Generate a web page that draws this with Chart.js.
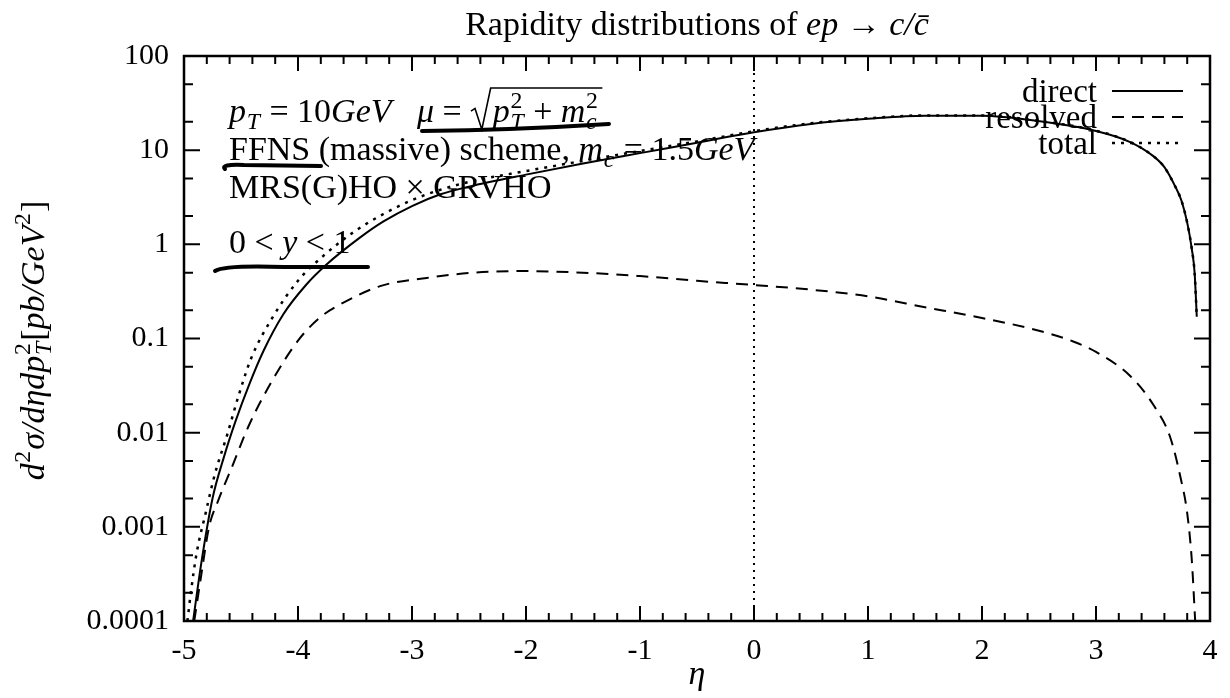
<!DOCTYPE html>
<html>
<head>
<meta charset="utf-8">
<script src="https://cdn.jsdelivr.net/npm/chart.js@4.4.1/dist/chart.umd.min.js"></script>
<style>
  body { margin: 0; background: #fff; }
  #wrap { width: 1230px; height: 698px; }
</style>
</head>
<body>
<div id="wrap"><canvas id="grafica"></canvas></div>
<script>
// values (eta, d2sigma in pb/GeV^2)
const directEta = [-4.92, -4.85, -4.75, -4.65, -4.55, -4.43, -4.3, -4.13, -3.93, -3.75, -3.46, -3.25, -3.0, -2.75, -2.5, -2.0, -1.5, -1.0, -0.5, 0, 0.5, 1.0, 1.5, 2.0, 2.5, 3.0, 3.3, 3.5, 3.6, 3.7, 3.75, 3.8, 3.84, 3.865, 3.884];
const directVal = [0.0001, 0.0004, 0.002, 0.0055, 0.013, 0.032, 0.075, 0.18, 0.37, 0.61, 1.17, 1.75, 2.55, 3.4, 4.1, 5.5, 7.2, 9.3, 12, 15.5, 19, 21.5, 23.2, 23.2, 20.3, 16, 12.2, 8.7, 6.6, 4.0, 2.9, 1.7, 0.9, 0.5, 0.17];

const resolvedEta = [-4.91, -4.85, -4.78, -4.7, -4.58, -4.43, -4.23, -4.0, -3.8, -3.63, -3.28, -2.87, -2.46, -2.0, -1.5, -1.0, -0.5, 0, 0.5, 1.0, 1.5, 2.0, 2.5, 2.8, 3.0, 3.3, 3.5, 3.65, 3.74, 3.8, 3.84, 3.87];
const resolvedVal = [0.0001, 0.0003, 0.001, 0.0019, 0.0043, 0.012, 0.035, 0.095, 0.17, 0.23, 0.36, 0.44, 0.5, 0.52, 0.5, 0.46, 0.41, 0.37, 0.33, 0.28, 0.215, 0.165, 0.121, 0.093, 0.072, 0.04, 0.02, 0.009, 0.0034, 0.0014, 0.00045, 0.0001];

const totalEta = [-4.97, -4.94, -4.89, -4.81, -4.73, -4.62, -4.52, -4.41, -4.22, -4.0, -3.78, -3.5, -3.25, -3.0, -2.75, -2.5, -2.0, -1.5, -1.0, -0.5, 0, 0.5, 1.0, 1.5, 2.0, 2.5, 3.0, 3.3, 3.5, 3.6, 3.7, 3.75, 3.8, 3.84, 3.865, 3.884];
const totalVal = [0.0001, 0.0002, 0.00052, 0.0014, 0.0036, 0.0096, 0.025, 0.062, 0.17, 0.41, 0.75, 1.38, 2.1, 2.95, 3.8, 4.6, 6.0, 7.7, 9.8, 12.4, 15.9, 19.3, 21.8, 23.4, 23.4, 20.4, 16.1, 12.2, 8.7, 6.6, 4.0, 2.9, 1.7, 0.9, 0.5, 0.17];

const xTicks = [-5, -4, -3, -2, -1, 0, 1, 2, 3, 4];
const yTicks = [0.0001, 0.001, 0.01, 0.1, 1, 10, 100];
const yTickLabels = ["0.0001", "0.001", "0.01", "0.1", "1", "10", "100"];
const yMinorSteps = [2, 5];
const xMinorPerMajor = 5;
const legendNames = ["direct", "resolved", "total"];
const zeroLineEta = 0;

const serif = "'Liberation Serif', 'DejaVu Serif', serif";

function pts(xs, ys) {
    return xs.map((x, i) => ({ x: x, y: ys[i] }));
}

function fnt(size, it) {
    return (it ? "italic " : "") + size + "px " + serif;
}

// rich text: segments {t, i, sup, sub, subI, root}
function segWidth(ctx, s, size) {
    if (s.root) {
        let w = size * 0.66;
        s.root.forEach(r => { w += segWidth(ctx, r, size); });
        return w + size * 0.1;
    }
    ctx.font = fnt(size, s.i);
    let w = ctx.measureText(s.t || "").width;
    let ws = 0;
    if (s.sup) { ctx.font = fnt(size * 0.7, false); ws = Math.max(ws, ctx.measureText(s.sup).width); }
    if (s.sub) { ctx.font = fnt(size * 0.7, s.subI); ws = Math.max(ws, ctx.measureText(s.sub).width); }
    return w + ws + (ws ? size * 0.05 : 0);
}

function drawSegs(ctx, segs, x, y, size) {
    segs.forEach(s => {
        if (s.root) {
            let inner = 0;
            s.root.forEach(r => { inner += segWidth(ctx, r, size); });
            ctx.save();
            ctx.lineWidth = 1.6;
            ctx.beginPath();
            ctx.moveTo(x + size * 0.02, y - size * 0.32);
            ctx.lineTo(x + size * 0.14, y - size * 0.4);
            ctx.lineTo(x + size * 0.34, y + size * 0.22);
            ctx.lineTo(x + size * 0.6, y - size * 1.0);
            ctx.lineTo(x + size * 0.66 + inner + size * 0.1, y - size * 1.0);
            ctx.stroke();
            ctx.restore();
            drawSegs(ctx, s.root, x + size * 0.66, y, size);
            x += segWidth(ctx, s, size);
            return;
        }
        ctx.font = fnt(size, s.i);
        ctx.fillText(s.t || "", x, y);
        let w = ctx.measureText(s.t || "").width;
        let ws = 0;
        let sx = x + w + (s.i ? size * 0.02 : 0);
        if (s.sup) {
            ctx.font = fnt(size * 0.7, false);
            ctx.fillText(s.sup, sx, y - size * 0.42);
            ws = Math.max(ws, ctx.measureText(s.sup).width);
        }
        if (s.sub) {
            ctx.font = fnt(size * 0.7, s.subI);
            ctx.fillText(s.sub, sx, y + size * 0.2);
            ws = Math.max(ws, ctx.measureText(s.sub).width);
        }
        x += w + ws + (ws ? size * 0.05 : 0);
    });
}

function drawRich(ctx, segs, x, y, size, align) {
    let w = 0;
    segs.forEach(s => { w += segWidth(ctx, s, size); });
    if (align === "center") x -= w / 2;
    if (align === "right") x -= w;
    ctx.textAlign = "left";
    ctx.textBaseline = "alphabetic";
    drawSegs(ctx, segs, x, y, size);
}

const titleSegs = [{ t: "Rapidity distributions of " }, { t: "ep", i: true }, { t: " \u2192 " }, { t: "c/c\u0304", i: true }];
const yTitleSegs = [{ t: "d", i: true, sup: "2" }, { t: "\u03c3/d\u03b7dp", i: true, sup: "2", sub: "T", subI: true }, { t: "[" }, { t: "pb/GeV", i: true, sup: "2" }, { t: "]" }];
const noteLines = [
    [{ t: "p", i: true, sub: "T", subI: true }, { t: " = 10" }, { t: "GeV", i: true }, { t: "   " }, { t: "\u03bc", i: true }, { t: " = " },
     { root: [{ t: "p", i: true, sup: "2", sub: "T", subI: true }, { t: " + " }, { t: "m", i: true, sup: "2", sub: "c", subI: true }] }],
    [{ t: "FFNS (massive) scheme, " }, { t: "m", i: true, sub: "c", subI: true }, { t: " = 1.5" }, { t: "GeV", i: true }],
    [{ t: "MRS(G)HO \u00d7 GRVHO" }],
    [{ t: "0 < " }, { t: "y", i: true }, { t: " < 1" }]
];

const decor = {
    id: "decor",
    beforeDatasetsDraw(chart) {
        const ctx = chart.ctx;
        const a = chart.chartArea;
        ctx.save();
        ctx.fillStyle = "#000";
        const base = [a.top + 66, a.top + 104, a.top + 142, a.top + 197];
        noteLines.forEach((ln, i) => drawRich(ctx, ln, a.left + 45, base[i], 34));

        // hand drawn pen strokes under parts of the notes
        ctx.strokeStyle = "#000";
        ctx.lineCap = "round";
        ctx.lineWidth = 4;
        ctx.beginPath();
        ctx.moveTo(a.left + 238, a.top + 75);
        ctx.quadraticCurveTo(a.left + 330, a.top + 74, a.left + 425, a.top + 68);
        ctx.moveTo(a.left + 41, a.top + 113);
        ctx.quadraticCurveTo(a.left + 36, a.top + 108, a.left + 60, a.top + 109);
        ctx.lineTo(a.left + 137, a.top + 110);
        ctx.moveTo(a.left + 31, a.top + 215);
        ctx.quadraticCurveTo(a.left + 40, a.top + 209, a.left + 100, a.top + 211);
        ctx.lineTo(a.left + 184, a.top + 211);
        ctx.stroke();
        ctx.restore();
    },
    afterDraw(chart) {
        const ctx = chart.ctx;
        const a = chart.chartArea;
        const xs = chart.scales.x;
        const ys = chart.scales.y;
        ctx.save();
        ctx.strokeStyle = "#000";
        ctx.fillStyle = "#000";

        // ticks, inward on all four sides
        ctx.lineWidth = 2;
        ctx.beginPath();
        xTicks.forEach((v, i) => {
            const px = xs.getPixelForValue(v);
            ctx.moveTo(px, a.bottom); ctx.lineTo(px, a.bottom - 15);
            ctx.moveTo(px, a.top); ctx.lineTo(px, a.top + 15);
            if (i < xTicks.length - 1) {
                const step = (xTicks[i + 1] - v) / xMinorPerMajor;
                for (let k = 1; k < xMinorPerMajor; k++) {
                    const mx = xs.getPixelForValue(v + k * step);
                    ctx.moveTo(mx, a.bottom); ctx.lineTo(mx, a.bottom - 8);
                    ctx.moveTo(mx, a.top); ctx.lineTo(mx, a.top + 8);
                }
            }
        });
        yTicks.forEach((v, i) => {
            const py = ys.getPixelForValue(v);
            ctx.moveTo(a.left, py); ctx.lineTo(a.left + 16, py);
            ctx.moveTo(a.right, py); ctx.lineTo(a.right - 16, py);
            if (i < yTicks.length - 1) {
                yMinorSteps.forEach(m => {
                    const my = ys.getPixelForValue(v * m);
                    ctx.moveTo(a.left, my); ctx.lineTo(a.left + 9, my);
                    ctx.moveTo(a.right, my); ctx.lineTo(a.right - 9, my);
                });
            }
        });
        ctx.stroke();

        // frame
        ctx.lineWidth = 2.5;
        ctx.strokeRect(a.left, a.top, a.right - a.left, a.bottom - a.top);

        // legend: text right aligned, sample to the right
        ctx.font = fnt(33, false);
        ctx.textAlign = "right";
        ctx.textBaseline = "alphabetic";
        legendNames.forEach((name, i) => {
            const ds = chart.data.datasets[i];
            const by = a.top + 46 + i * 26;
            ctx.fillText(name, a.right - 113, by);
            ctx.save();
            ctx.lineWidth = ds.borderWidth;
            ctx.setLineDash(ds.borderDash || []);
            ctx.beginPath();
            ctx.moveTo(a.right - 98, by - 11);
            ctx.lineTo(a.right - 27, by - 11);
            ctx.stroke();
            ctx.restore();
        });

        // title, centred over the plot
        drawRich(ctx, titleSegs, (a.left + a.right) / 2, 35, 34, "center");

        // eta axis title
        ctx.font = fnt(34, true);
        ctx.textAlign = "center";
        ctx.textBaseline = "alphabetic";
        ctx.fillText("\u03b7", (a.left + a.right) / 2, 684);

        // y axis title, rotated
        ctx.save();
        ctx.translate(44, (a.top + a.bottom) / 2 + 2);
        ctx.rotate(-Math.PI / 2);
        drawRich(ctx, yTitleSegs, 0, 0, 34, "center");
        ctx.restore();

        ctx.restore();
    }
};

const canva = document.getElementById("grafica").getContext("2d");

const chart = new Chart(canva, {
    type: "line",
    data: {
        datasets: [
            {
                label: legendNames[0],
                data: pts(directEta, directVal),
                borderColor: "#000",
                borderWidth: 2,
                pointRadius: 0,
                cubicInterpolationMode: "monotone"
            },
            {
                label: legendNames[1],
                data: pts(resolvedEta, resolvedVal),
                borderColor: "#000",
                borderWidth: 2,
                borderDash: [12, 8],
                pointRadius: 0,
                cubicInterpolationMode: "monotone"
            },
            {
                label: legendNames[2],
                data: pts(totalEta, totalVal),
                borderColor: "#000",
                borderWidth: 2.5,
                borderDash: [3, 6],
                pointRadius: 0,
                cubicInterpolationMode: "monotone"
            },
            {
                label: "eta = 0",
                data: [{ x: zeroLineEta, y: yTicks[0] }, { x: zeroLineEta, y: yTicks[yTicks.length - 1] }],
                borderColor: "#000",
                borderWidth: 2,
                borderDash: [2, 5],
                pointRadius: 0
            }
        ]
    },
    options: {
        responsive: true,
        maintainAspectRatio: false,
        animation: false,
        events: [],
        layout: { padding: { top: 56, right: 20, left: 0, bottom: 0 } },
        plugins: {
            legend: { display: false },
            title: { display: false },
            tooltip: { enabled: false }
        },
        scales: {
            x: {
                type: "linear",
                min: xTicks[0],
                max: xTicks[xTicks.length - 1],
                afterBuildTicks: s => { s.ticks = xTicks.map(v => ({ value: v })); },
                afterFit: s => { s.height = 77; },
                grid: { display: false, drawTicks: false },
                border: { display: false },
                ticks: {
                    autoSkip: false,
                    maxRotation: 0,
                    padding: 12,
                    color: "#000",
                    font: { family: serif, size: 30 },
                    callback: v => String(v)
                }
            },
            y: {
                type: "logarithmic",
                min: yTicks[0],
                max: yTicks[yTicks.length - 1],
                afterBuildTicks: s => { s.ticks = yTicks.map(v => ({ value: v })); },
                afterFit: s => { s.width = 184; },
                grid: { display: false, drawTicks: false },
                border: { display: false },
                ticks: {
                    autoSkip: false,
                    padding: 15,
                    color: "#000",
                    font: { family: serif, size: 30 },
                    callback: (v, i) => yTickLabels[i]
                }
            }
        }
    },
    plugins: [decor]
});
</script>
</body>
</html>
